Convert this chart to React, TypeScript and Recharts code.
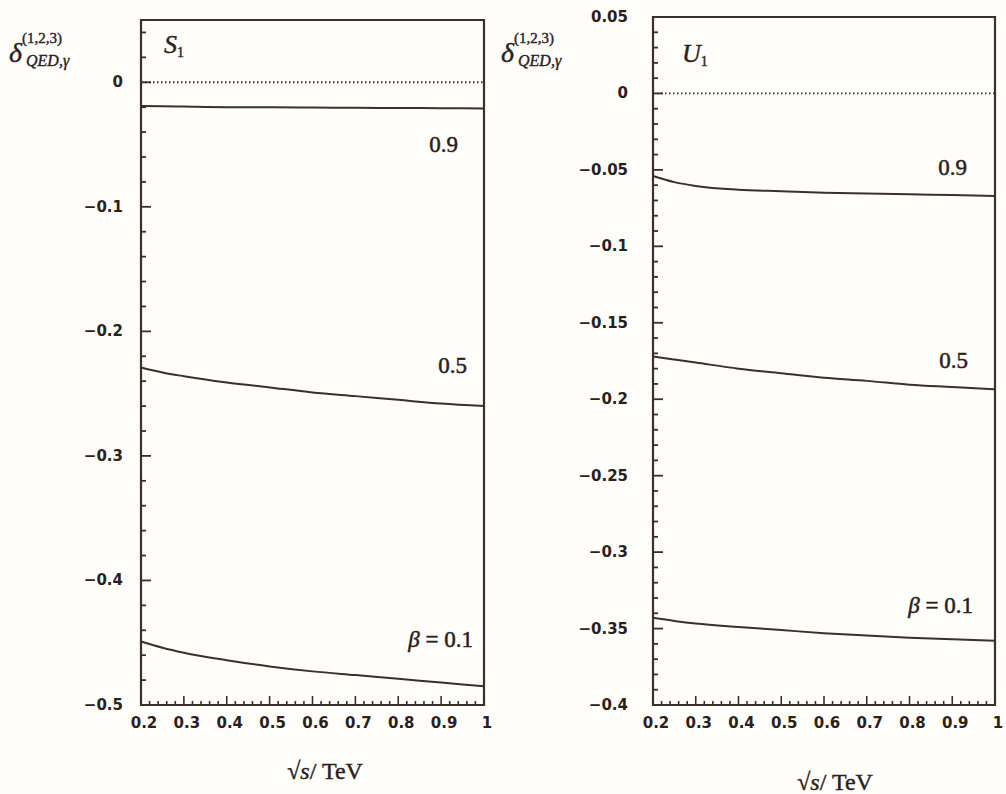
import { LineChart, Line, XAxis, YAxis, ReferenceLine, ReferenceArea } from 'recharts';

const INK = '#3b3029';
const TEXT = '#2a211b';

// sqrt(s) in TeV
const energy = [0.2, 0.25, 0.3, 0.4, 0.5, 0.6, 0.7, 0.8, 0.9, 1];

// S1 panel
const s1Beta09 = [-0.019, -0.0192, -0.0195, -0.02, -0.02, -0.0203, -0.0205, -0.0207, -0.0208, -0.021];
const s1Beta05 = [-0.229, -0.233, -0.236, -0.241, -0.245, -0.249, -0.252, -0.255, -0.258, -0.26];
const s1Beta01 = [-0.449, -0.454, -0.458, -0.464, -0.469, -0.473, -0.476, -0.479, -0.482, -0.485];

// U1 panel
const u1Beta09 = [-0.054, -0.058, -0.0605, -0.063, -0.064, -0.065, -0.0655, -0.066, -0.0665, -0.067];
const u1Beta05 = [-0.172, -0.174, -0.176, -0.18, -0.183, -0.186, -0.188, -0.1905, -0.192, -0.1935];
const u1Beta01 = [-0.343, -0.345, -0.3467, -0.349, -0.351, -0.353, -0.3545, -0.356, -0.357, -0.358];

const xMajorTicks = [0.2, 0.3, 0.4, 0.5, 0.6, 0.7, 0.8, 0.9, 1];
const s1YMajorTicks = [-0.5, -0.4, -0.3, -0.2, -0.1, 0];
const u1YMajorTicks = [-0.4, -0.35, -0.3, -0.25, -0.2, -0.15, -0.1, -0.05, 0, 0.05];

// minor tick positions between the labelled ones
const steps = (from: number, to: number, step: number) => {
  const out: number[] = [];
  const n = Math.round((to - from) / step);
  for (let i = 0; i <= n; i++) out.push(Math.round((from + i * step) * 1000) / 1000);
  return out;
};
const xTicks = steps(0.2, 1, 0.02);
const s1YTicks = steps(-0.5, 0.04, 0.02);
const u1YTicks = steps(-0.4, 0.05, 0.01);

const toRows = (a: number[], b: number[], c: number[]) =>
  energy.map((e, i) => ({ e, b09: a[i], b05: b[i], b01: c[i] }));

const s1Data = toRows(s1Beta09, s1Beta05, s1Beta01);
const u1Data = toRows(u1Beta09, u1Beta05, u1Beta01);

const isMajor = (v: number, majors: number[]) => majors.some((m) => Math.abs(m - v) < 1e-6);
const fmt = (v: number) => (Math.abs(v) < 1e-9 ? '0' : String(v).replace('-', '\u2212'));

const tickFont = { fontFamily: '"DejaVu Sans", sans-serif', fontWeight: 700, fontSize: 15, fill: TEXT };

function makeYTick(majors: number[], gap: number) {
  return (props: any) => {
    const { x, y, payload } = props;
    const major = isMajor(payload.value, majors);
    return (
      <g>
        <line x1={x} x2={x + (major ? 10 : 5)} y1={y} y2={y} stroke={INK} strokeWidth={1.8} />
        {major && (
          <text x={x - gap} y={y} textAnchor="end" dominantBaseline="central" {...tickFont}>
            {fmt(payload.value)}
          </text>
        )}
      </g>
    );
  };
}

function XTick(props: any) {
  const { x, y, payload } = props;
  const major = isMajor(payload.value, xMajorTicks);
  return (
    <g>
      <line x1={x} x2={x} y1={y} y2={y - (major ? 9 : 4)} stroke={INK} strokeWidth={1.6} />
      {major && (
        <text x={x + 3} y={y + 18} textAnchor="middle" dominantBaseline="central" {...tickFont}>
          {fmt(payload.value)}
        </text>
      )}
    </g>
  );
}

interface PanelProps {
  data: typeof s1Data;
  yDomain: [number, number];
  yTicks: number[];
  yMajors: number[];
  yAxisWidth: number;
  labelGap: number;
  width: number;
  top: number;
  right: number;
}

function Panel({ data, yDomain, yTicks, yMajors, yAxisWidth, labelGap, width, top, right }: PanelProps) {
  return (
    <LineChart width={width} height={794} data={data} margin={{ top, right, bottom: 59, left: 0 }}>
      <XAxis
        type="number"
        dataKey="e"
        domain={[0.2, 1]}
        ticks={xTicks}
        interval={0}
        height={30}
        axisLine={false}
        tickLine={false}
        tickSize={0}
        tickMargin={0}
        tick={XTick}
      />
      <YAxis
        type="number"
        domain={yDomain}
        allowDataOverflow
        ticks={yTicks}
        interval={0}
        width={yAxisWidth}
        axisLine={false}
        tickLine={false}
        tickSize={0}
        tickMargin={0}
        tick={makeYTick(yMajors, labelGap)}
      />
      <ReferenceLine y={0} stroke={INK} strokeWidth={1.8} strokeDasharray="1.5 2.5" />
      <ReferenceArea x1={0.2} x2={1} y1={yDomain[0]} y2={yDomain[1]} fill="none" fillOpacity={0} stroke={INK} strokeWidth={2.2} />
      <Line type="monotone" dataKey="b09" stroke={INK} strokeWidth={2} dot={false} isAnimationActive={false} />
      <Line type="monotone" dataKey="b05" stroke={INK} strokeWidth={2} dot={false} isAnimationActive={false} />
      <Line type="monotone" dataKey="b01" stroke={INK} strokeWidth={2} dot={false} isAnimationActive={false} />
    </LineChart>
  );
}

const serif = '"Liberation Serif", "DejaVu Serif", serif';

function YTitle({ x, y }: { x: number; y: number }) {
  return (
    <text x={x} y={y} fontFamily={serif} fill={TEXT} stroke={TEXT} strokeWidth={0.4}>
      <tspan fontStyle="italic" fontSize={28}>δ</tspan>
      <tspan fontSize={15} dy={-19}>(1,2,3)</tspan>
      <tspan fontStyle="italic" fontSize={16} x={x + 17} dy={23}>QED,γ</tspan>
    </text>
  );
}

function Annotations() {
  const curveLabel = {
    fontFamily: serif,
    fontSize: 23,
    fill: TEXT,
    stroke: TEXT,
    strokeWidth: 0.5,
    textAnchor: 'end' as const,
  };
  return (
    <svg width={1006} height={794} style={{ position: 'absolute', left: 0, top: 0, pointerEvents: 'none' }}>
      <YTitle x={9} y={62} />
      <YTitle x={501} y={62} />

      <text x={164} y={53} fontFamily={serif} fill={TEXT} stroke={TEXT} strokeWidth={0.4}>
        <tspan fontStyle="italic" fontSize={26}>S</tspan>
        <tspan fontSize={14} dy={4}>1</tspan>
      </text>
      <text x={682} y={62} fontFamily={serif} fill={TEXT} stroke={TEXT} strokeWidth={0.4}>
        <tspan fontStyle="italic" fontSize={26}>U</tspan>
        <tspan fontSize={14} dy={4}>1</tspan>
      </text>

      <text x={458} y={152} {...curveLabel}>0.9</text>
      <text x={467} y={373} {...curveLabel}>0.5</text>
      <text x={473} y={647} {...curveLabel}>
        <tspan fontStyle="italic">β</tspan> = 0.1
      </text>

      <text x={967} y={175} {...curveLabel}>0.9</text>
      <text x={968} y={368} {...curveLabel}>0.5</text>
      <text x={973} y={613} {...curveLabel}>
        <tspan fontStyle="italic">β</tspan> = 0.1
      </text>

      <text x={325} y={779} fontFamily={serif} fontSize={24} fill={TEXT} stroke={TEXT} strokeWidth={0.4} textAnchor="middle">
        √<tspan fontStyle="italic">s</tspan>/ TeV
      </text>
      <text x={835} y={790} fontFamily={serif} fontSize={24} fill={TEXT} stroke={TEXT} strokeWidth={0.4} textAnchor="middle">
        √<tspan fontStyle="italic">s</tspan>/ TeV
      </text>
    </svg>
  );
}

export default function App() {
  return (
    <div style={{ position: 'absolute', left: 0, top: 0, width: 1006, height: 794, background: '#fffefb', overflow: 'hidden' }}>
      <div style={{ position: 'absolute', left: 0, top: 0 }}>
        <Panel
          data={s1Data}
          yDomain={[-0.5, 0.05]}
          yTicks={s1YTicks}
          yMajors={s1YMajorTicks}
          yAxisWidth={141}
          labelGap={18}
          width={500}
          top={20}
          right={16}
        />
      </div>
      <div style={{ position: 'absolute', left: 500, top: 0 }}>
        <Panel
          data={u1Data}
          yDomain={[-0.4, 0.05]}
          yTicks={u1YTicks}
          yMajors={u1YMajorTicks}
          yAxisWidth={153}
          labelGap={25}
          width={506}
          top={17}
          right={11}
        />
      </div>
      <Annotations />
    </div>
  );
}
